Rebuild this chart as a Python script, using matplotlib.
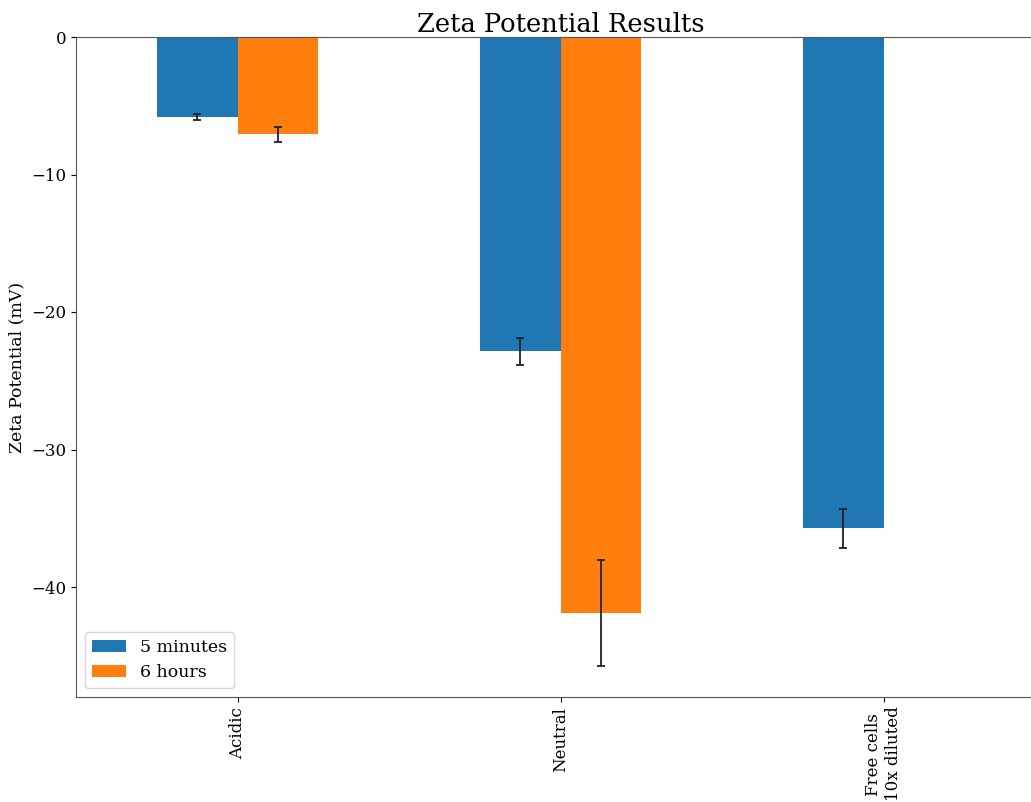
import numpy as np
import matplotlib
matplotlib.use("Agg")
import matplotlib.pyplot as plt

plt.rcParams["font.family"] = ["DejaVu Serif"]

categories = ["Acidic", "Neutral", "Free cells\n10x diluted"]
series_labels = ["5 minutes", "6 hours"]
five_min = [-5.82, -22.85, -35.73]
five_min_err = [0.22, 0.98, 1.43]
six_hours = [-7.08, -41.9, 0.0]
six_hours_err = [0.57, 3.83, 0.0]

fig = plt.figure(figsize=(10.31, 8.02), dpi=100)
ax = fig.add_axes([76 / 1031, 1 - 697 / 802, (1045 - 76) / 1031, (697 - 37) / 802])

x = np.arange(len(categories))
width = 0.25
ax.bar(x - width / 2, five_min, width, yerr=five_min_err, capsize=3,
       color="#1f77b4", label=series_labels[0],
       error_kw=dict(ecolor="#222222", elinewidth=1.3, capthick=1.3))
ax.bar(x + width / 2, six_hours, width, yerr=six_hours_err, capsize=3,
       color="#ff7f0e", label=series_labels[1],
       error_kw=dict(ecolor="#222222", elinewidth=1.3, capthick=1.3))

ax.set_xlim(-0.5, 2.5)
ax.set_ylim(-48, 0)
ax.set_yticks([0, -10, -20, -30, -40])
ax.set_xticks(x)
ax.set_xticklabels(categories, rotation=90, fontsize=12)
ax.tick_params(axis="y", labelsize=12)
ax.set_ylabel("Zeta Potential (mV)", fontsize=12.5)
ax.set_title("Zeta Potential Results", fontsize=18.5, pad=2)
for s in ax.spines.values():
    s.set_color("#555555")
ax.legend(loc="lower left", fontsize=12.5)

fig.savefig("out.png", dpi=100)
